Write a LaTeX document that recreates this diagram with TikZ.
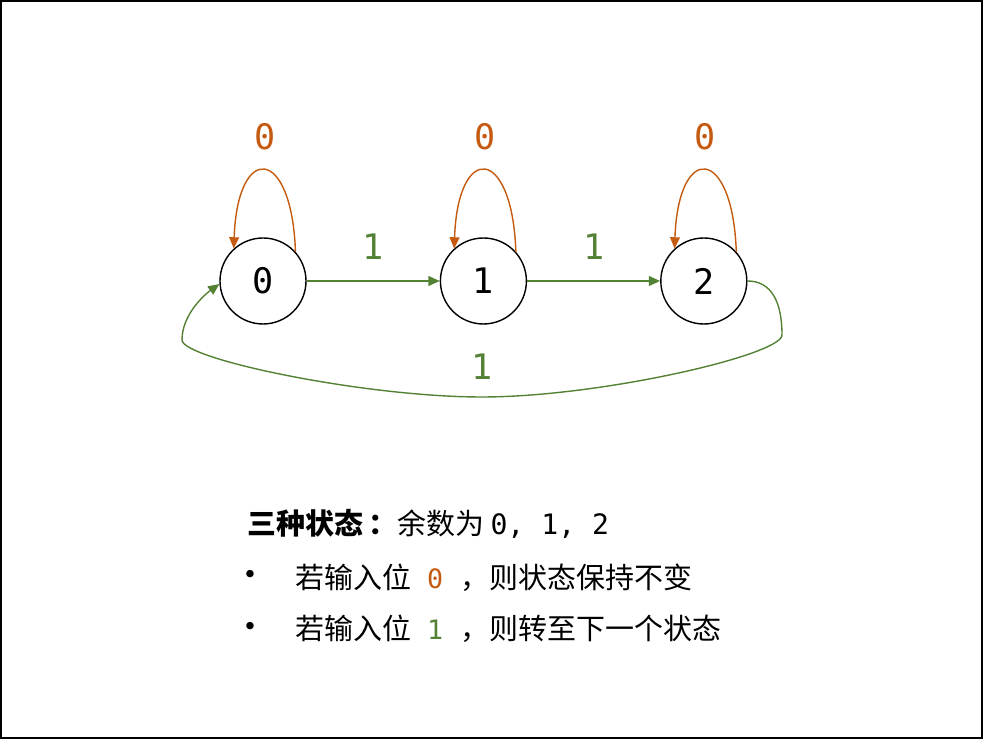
\documentclass[tikz,border=0pt]{standalone}
\usepackage{fontspec}
\setmainfont{Noto Sans CJK SC}
\setmonofont{DejaVu Sans Mono}
\newfontfamily\pucefont{DejaVu Sans}
\usetikzlibrary{positioning,arrows.meta}

\definecolor{zeroorange}{RGB}{197,90,17}
\definecolor{onegreen}{RGB}{84,130,53}

\newcommand\chiffre[1]{{\ttfamily\fontsize{19}{20}\selectfont #1}}

\tikzset{
  statenode/.style={draw, circle, line width=1pt, minimum size=2.15cm, inner sep=0pt,
    font=\ttfamily\fontsize{25}{25}\selectfont},
  zeroedge/.style={draw=zeroorange, line width=1pt, -{Triangle[length=8pt,width=7pt]}},
  oneedge/.style={draw=onegreen, line width=1pt, -{Triangle[length=8pt,width=7pt]}},
  edgelabel/.style={inner sep=0pt, font=\ttfamily\fontsize{25}{25}\selectfont},
  textline/.style={anchor=base west, inner sep=0pt, font=\fontsize{20.6}{24}\selectfont},
  bullet/.style={inner sep=0pt, font=\pucefont\fontsize{18}{20}\selectfont},
}

\begin{document}
\begin{tikzpicture}
  \useasboundingbox (0,0) rectangle (24.575,18.475);
  % cadre
  \draw[line width=1.6pt] (0.03,0.03) rectangle (24.545,18.445);

  % etats
  \node[statenode] (n0) at (6.575,11.45) {0};
  \node[statenode, right=3.325cm of n0] (n1) {1};
  \node[statenode, right=3.325cm of n1] (n2) {2};

  % boucles sur 0
  \draw[zeroedge] (n0.42) to[out=92, in=88, looseness=4.4]
    node[edgelabel, text=zeroorange, midway, above=0.5cm] {0} (n0.132);
  \draw[zeroedge] (n1.42) to[out=92, in=88, looseness=4.4]
    node[edgelabel, text=zeroorange, midway, above=0.5cm] {0} (n1.132);
  \draw[zeroedge] (n2.42) to[out=92, in=88, looseness=4.4]
    node[edgelabel, text=zeroorange, midway, above=0.5cm] {0} (n2.132);

  % transitions sur 1
  \draw[oneedge] (n0) -- node[edgelabel, text=onegreen, above=0.52cm] {1} (n1);
  \draw[oneedge] (n1) -- node[edgelabel, text=onegreen, above=0.52cm] {1} (n2);

  % retour 2 -> 0
  \draw[oneedge] (n2.east) .. controls (19.3,11.45) and (19.55,10.9) .. (19.55,10.1)
    .. controls (19.55,9.6) and (15.0,8.55) .. (12.05,8.55)
    node[edgelabel, text=onegreen, above=0.43cm] {1}
    .. controls (9.1,8.55) and (4.55,9.5) .. (4.55,9.975)
    .. controls (4.55,10.6) and (5.1,11.1) .. (n0.184);

  % texte
  \node[textline] (titre) at (6.175,5.1)
    {{\bfseries 三种状态\hspace{0.2em}：}余数为\hspace{0.2em}{\ttfamily\fontsize{20}{20}\selectfont 0, 1, 2}};
  \node[bullet] (puceA) at (6.25,4.05) {•};
  \node[textline] (regleA) at (7.375,3.775)
    {若输入位\hspace{0.55em}\chiffre{\textcolor{zeroorange}{0}}\hspace{0.6em}，则状态保持不变};
  \node[bullet] (puceB) at (6.25,2.75) {•};
  \node[textline] (regleB) at (7.375,2.5)
    {若输入位\hspace{0.55em}\chiffre{\textcolor{onegreen}{1}}\hspace{0.6em}，则转至下一个状态};
\end{tikzpicture}
\end{document}
